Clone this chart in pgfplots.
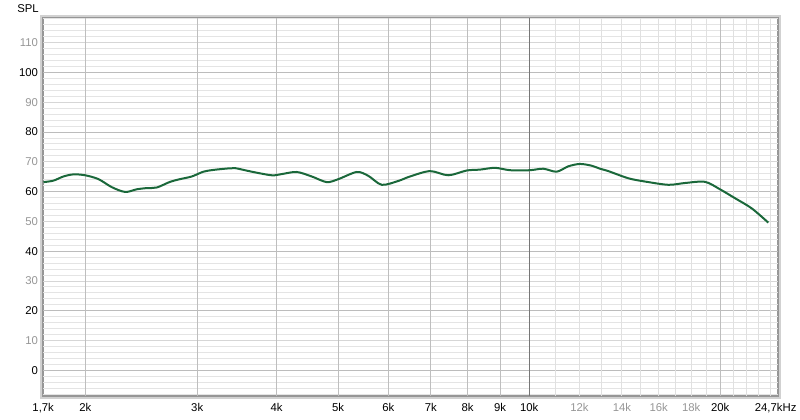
\documentclass[border=0pt]{standalone}
\usepackage{fontspec}
\setmainfont{Liberation Sans}
\usepackage{pgfplots}
\usepackage{pgfplotstable}
\pgfplotsset{compat=1.18}

\definecolor{curve}{RGB}{26,104,58}
\definecolor{gminor}{RGB}{228,228,228}
\definecolor{gten}{RGB}{214,214,214}
\definecolor{gtwenty}{RGB}{188,188,188}
\definecolor{gvert}{RGB}{190,190,190}
\definecolor{gvlight}{RGB}{224,224,224}
\definecolor{gdec}{RGB}{118,118,118}
\definecolor{lblgray}{RGB}{150,150,150}
\definecolor{framec}{RGB}{150,150,150}

% frequency response
\pgfplotstableread{
f spl
1718 63.2
1781 63.7
1847 65.1
1915 65.8
1998 65.5
2097 64.2
2201 61.5
2310 59.9
2410 60.8
2499 61.2
2591 61.4
2719 63.3
2819 64.2
2942 65.1
3068 66.7
3182 67.3
3359 67.8
3442 67.9
3656 66.7
3931 65.5
4076 65.9
4304 66.6
4544 65.1
4799 63.2
5005 64.2
5351 66.6
5581 65.3
5859 62.3
6222 63.6
6492 65.1
6980 66.9
7458 65.5
7974 67.1
8368 67.4
8835 68.0
9329 67.2
10029 67.2
10524 67.7
11048 66.7
11524 68.5
12024 69.3
12546 68.7
12929 67.7
13324 66.9
14326 64.5
15220 63.4
16564 62.3
17596 62.9
18921 63.3
19978 60.8
21096 57.8
22412 54.4
23806 49.6
}\response

\begin{document}
\begin{tikzpicture}
\useasboundingbox (-32.25pt,-18pt) rectangle (567.75pt,297pt);
% shadow round the plot frame
\draw[black!18, line width=2.2pt] (-1.3pt,-1.3pt) rectangle (552.55pt,284.8pt);
\begin{axis}[
    at={(0,0)}, anchor=south west,
    scale only axis,
    width=551.25pt, height=283.5pt,
    xmode=log,
    xmin=1715, xmax=24660,
    ymin=-8.6, ymax=118.3,
    axis line style={draw=framec, line width=1.1pt},
    major tick length=0pt, minor tick length=0pt,
    xtick={1716,2000,3000,4000,5000,6000,7000,8000,9000,10000,12000,14000,16000,18000,20000,24450},
    xticklabels={{1,7k},2k,3k,4k,5k,6k,7k,8k,9k,10k,
        \textcolor{lblgray}{12k},\textcolor{lblgray}{14k},\textcolor{lblgray}{16k},\textcolor{lblgray}{18k},
        20k,{24,7kHz}},
    ytick={0,10,20,30,40,50,60,70,80,90,100,110},
    yticklabels={0,\textcolor{lblgray}{10},20,\textcolor{lblgray}{30},40,\textcolor{lblgray}{50},
        60,\textcolor{lblgray}{70},80,\textcolor{lblgray}{90},100,\textcolor{lblgray}{110}},
    tick label style={font=\fontsize{8.5}{10}\selectfont},
    xticklabel style={yshift=-2.3pt},
    yticklabel style={xshift=-0.3pt},
    /pgf/number format/assume math mode=true,
    clip=true,
]
% horizontal grid
\pgfplotsinvokeforeach{-8,-6,...,118}{
  \draw[gminor, line width=0.75pt] (axis cs:1715,#1) -- (axis cs:24660,#1);
}
\pgfplotsinvokeforeach{10,30,50,70,90,110}{
  \draw[gten, line width=0.75pt] (axis cs:1715,#1) -- (axis cs:24660,#1);
}
\pgfplotsinvokeforeach{0,20,40,60,80,100}{
  \draw[gtwenty, line width=0.75pt] (axis cs:1715,#1) -- (axis cs:24660,#1);
}
% vertical grid
\pgfplotsinvokeforeach{11000,12000,13000,14000,15000,16000,17000,18000,19000,21000,22000,23000,24000}{
  \draw[gvlight, line width=0.75pt] (axis cs:#1,-8.6) -- (axis cs:#1,118.3);
}
\pgfplotsinvokeforeach{2000,3000,4000,5000,6000,7000,8000,9000,20000}{
  \draw[gvert, line width=0.75pt] (axis cs:#1,-8.6) -- (axis cs:#1,118.3);
}
\draw[gdec, line width=0.75pt] (axis cs:10000,-8.6) -- (axis cs:10000,118.3);

\addplot[curve, line width=1.5pt, smooth, tension=0.5, no marks] table[x=f, y=spl] {\response};
\end{axis}
\node[font=\fontsize{8.5}{10}\selectfont] at (-11.25pt,290.25pt) {SPL};
\end{tikzpicture}
\end{document}
